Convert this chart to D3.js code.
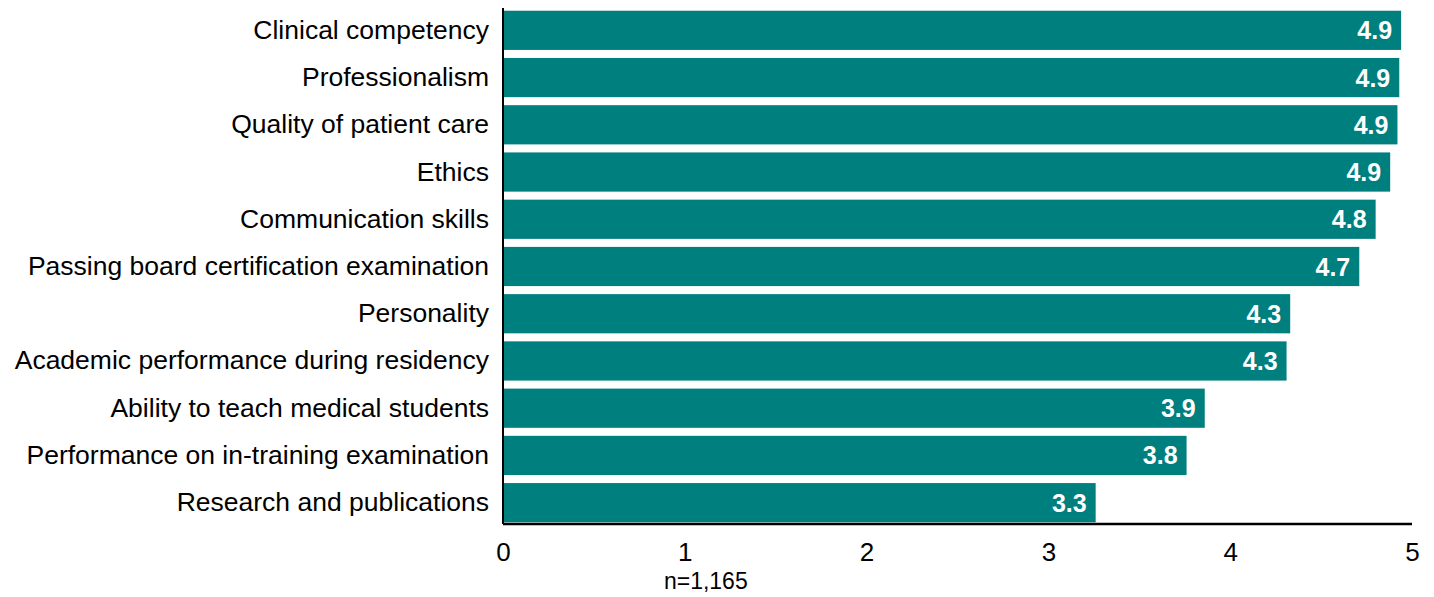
<!DOCTYPE html>
<html><head><meta charset="utf-8">
<script src="https://cdn.jsdelivr.net/npm/d3@7"></script>
<style>body{margin:0;background:#fff;} svg text{font-family:"Liberation Sans",Arial,sans-serif;}</style>
</head><body><svg id="c" width="1434" height="597"></svg>
<script>
const categories = ["Clinical competency","Professionalism","Quality of patient care","Ethics","Communication skills","Passing board certification examination","Personality","Academic performance during residency","Ability to teach medical students","Performance on in-training examination","Research and publications"];
const values = [4.94,4.93,4.92,4.88,4.80,4.71,4.33,4.31,3.86,3.76,3.26];
const xTicks = [0,1,2,3,4,5];
const note = "n=1,165";

const svg = d3.select("#c");
const x = d3.scaleLinear().domain([0,5]).range([503,1412]);
const y = d3.scaleBand().domain(categories).range([6,527]).paddingInner(0.17).paddingOuter(0.1);

svg.selectAll("rect.bar").data(categories).join("rect")
  .attr("class","bar")
  .attr("x", x(0)).attr("y", d=>y(d))
  .attr("width",(d,i)=>x(values[i])-x(0)).attr("height", y.bandwidth())
  .attr("fill","#007f7f");

svg.selectAll("text.val").data(categories).join("text")
  .attr("class","val")
  .attr("x",(d,i)=>x(values[i])-9).attr("y",d=>y(d)+y.bandwidth()/2+9)
  .attr("text-anchor","end").attr("fill","#fff").attr("font-weight","bold").attr("font-size",25)
  .text((d,i)=>d3.format(".1f")(values[i]));

const yAxis = d3.axisLeft(y).tickSize(0).tickPadding(14);
const gy = svg.append("g").attr("transform",`translate(${x(0)},0)`).call(yAxis);
gy.select(".domain").attr("stroke","#000").attr("stroke-width",2).attr("d","M0,8V524");
gy.selectAll("text").attr("font-size",26.5).attr("fill","#000").attr("font-family","Liberation Sans, Arial, sans-serif");

const xAxis = d3.axisBottom(x).tickValues(xTicks).tickSize(0).tickPadding(19).tickFormat(d3.format("d"));
const gx = svg.append("g").attr("transform","translate(0,524)").call(xAxis);
gx.select(".domain").attr("stroke","#000").attr("stroke-width",2.5).attr("d",`M${x(0)},0H${x(5)}`);
gx.selectAll("text").attr("font-size",26).attr("fill","#000").attr("font-family","Liberation Sans, Arial, sans-serif");

svg.append("text").attr("x",x(1)+21).attr("y",589).attr("text-anchor","middle")
  .attr("font-size",23).attr("fill","#000").text(note);
</script></body></html>
